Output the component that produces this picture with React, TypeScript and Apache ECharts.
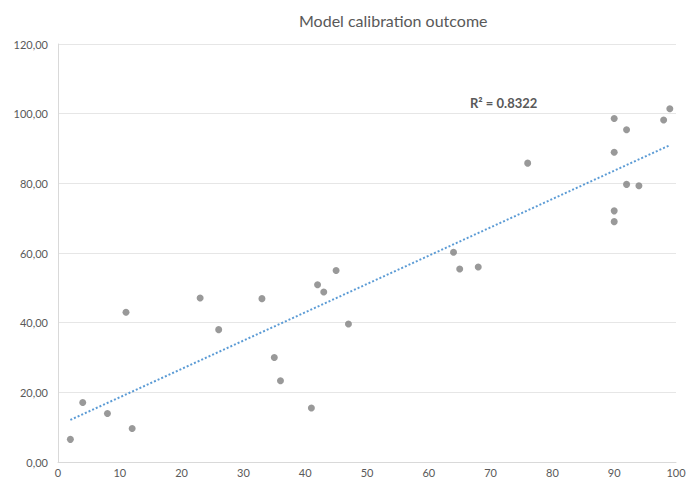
import React, { useEffect, useRef } from "react";
import * as echarts from "echarts";

// Observed vs. modelled values
const xValues = [2, 4, 8, 11, 12, 23, 26, 33, 35, 36, 41, 42, 43, 45, 47, 64, 65, 68, 76, 90, 90, 90, 90, 92, 92, 94, 98, 99];
const yValues = [6.5, 17.1, 13.9, 43.0, 9.6, 47.1, 38.0, 46.9, 30.0, 23.3, 15.5, 50.9, 48.8, 55.0, 39.6, 60.2, 55.4, 56.0, 85.8, 98.6, 88.9, 72.1, 69.0, 95.4, 79.7, 79.3, 98.2, 101.4];
const xTicks = [0, 10, 20, 30, 40, 50, 60, 70, 80, 90, 100];
const yTicks = [0, 20, 40, 60, 80, 100, 120];
const titleText = "Model calibration outcome";
const r2Text = "R² = 0.8322";

function linearFit(xs: number[], ys: number[]) {
  const n = xs.length;
  const mx = xs.reduce((a, b) => a + b, 0) / n;
  const my = ys.reduce((a, b) => a + b, 0) / n;
  let sxy = 0;
  let sxx = 0;
  for (let i = 0; i < n; i++) {
    sxy += (xs[i] - mx) * (ys[i] - my);
    sxx += (xs[i] - mx) * (xs[i] - mx);
  }
  const slope = sxy / sxx;
  return { slope, intercept: my - slope * mx };
}

export default function App() {
  const ref = useRef<HTMLDivElement>(null);

  useEffect(() => {
    if (!ref.current) return;
    const chart = echarts.init(ref.current, undefined, { renderer: "svg" });
    const fit = linearFit(xValues, yValues);
    const xMin = Math.min(...xValues);
    const xMax = Math.max(...xValues);
    const trend = [
      [xMin, fit.intercept + fit.slope * xMin],
      [xMax, fit.intercept + fit.slope * xMax],
    ];
    const font = "Lato, 'Open Sans', sans-serif";

    chart.setOption({
      animation: false,
      backgroundColor: "#ffffff",
      textStyle: { fontFamily: font },
      title: {
        text: titleText,
        left: 294,
        top: 7,
        textStyle: { fontFamily: font, fontSize: 16, fontWeight: "normal", color: "#595959" },
      },
      grid: { left: 58, right: 20, top: 44, bottom: 22, containLabel: false },
      xAxis: {
        type: "value",
        min: xTicks[0],
        max: xTicks[xTicks.length - 1],
        interval: 10,
        axisLine: { show: true, lineStyle: { color: "#d9d9d9", width: 1 } },
        axisTick: { show: false },
        splitLine: { show: false },
        axisLabel: { color: "#595959", fontSize: 11, margin: 5, fontFamily: font },
      },
      yAxis: {
        type: "value",
        min: yTicks[0],
        max: yTicks[yTicks.length - 1],
        interval: 20,
        axisLine: { show: true, lineStyle: { color: "#d9d9d9", width: 1 } },
        axisTick: { show: false },
        splitLine: { show: true, lineStyle: { color: "#e6e6e6", width: 1 } },
        axisLabel: {
          color: "#595959",
          fontSize: 11,
          margin: 10,
          fontFamily: font,
          formatter: (v: number) => v.toFixed(2).replace(".", ","),
        },
      },
      series: [
        {
          type: "line",
          data: trend,
          symbol: "none",
          lineStyle: { color: "#5b9bd5", width: 2, type: [2, 2] },
          z: 1,
        },
        {
          type: "scatter",
          data: xValues.map((x, i) => [x, yValues[i]]),
          symbol: "circle",
          symbolSize: 7,
          itemStyle: { color: "#7f7f7f" },
          z: 2,
        },
      ],
      graphic: [
        {
          type: "text",
          left: 470,
          top: 96,
          style: {
            text: r2Text,
            fill: "#595959",
            font: `bold 13px ${font}`,
          },
        },
      ],
    });

    return () => chart.dispose();
  }, []);

  return (
    <div
      ref={ref}
      style={{ position: "absolute", left: 0, top: 0, width: 696, height: 484 }}
    />
  );
}
